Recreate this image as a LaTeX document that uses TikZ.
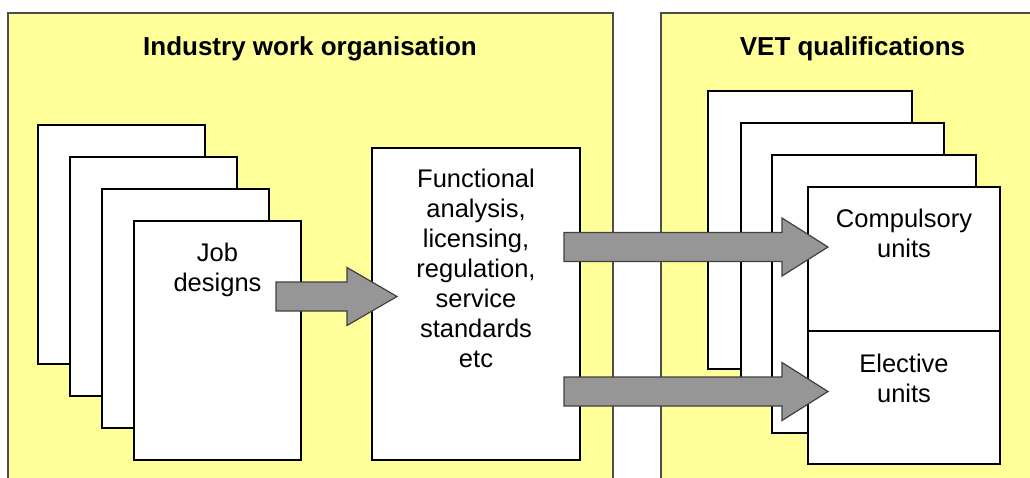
\documentclass[tikz,border=0pt]{standalone}
\usepackage{fontspec}
\setmainfont{Liberation Sans}
\usetikzlibrary{calc}
\definecolor{panelyellow}{HTML}{FFFF99}
\definecolor{panelline}{HTML}{4D4D4D}
\definecolor{arrowfill}{HTML}{969696}
\definecolor{arrowline}{HTML}{404040}
\newcommand\myblockarrow[4]{% start coord, tip coord, head length, name
  \draw[blockarr] let \p1=(#1), \p2=(#2) in
    (\x1,\y1+14.5pt) -- (\x2-#3,\y1+14.5pt) -- (\x2-#3,\y1+29pt) -- (\x2,\y2)
    -- (\x2-#3,\y1-29pt) -- (\x2-#3,\y1-14.5pt) -- (\x1,\y1-14.5pt) -- cycle;}
\begin{document}
\begin{tikzpicture}[x=1pt,y=-1pt,
  panel/.style={fill=panelyellow,draw=panelline,line width=2pt},
  pagebox/.style={draw=black,fill=white,line width=1.3pt,inner sep=0pt,rectangle},
  bodytext/.style={font=\fontsize{25.5}{30}\selectfont,align=center,inner sep=0pt},
  titletext/.style={font=\bfseries\fontsize{26}{30}\selectfont,inner sep=0pt,anchor=base},
  blockarr/.style={fill=arrowfill,draw=arrowline,line width=1.2pt,line join=miter}]
\useasboundingbox (0,0) rectangle (1030,477);
\clip (0,0) rectangle (1030,477);
% panels
\draw[panel] (8,13) rectangle (613,495);
\draw[panel] (661,13) rectangle (1045,495);
\node[titletext] (t1) at (310,55) {Industry work organisation};
\node[titletext] (t2) at (852.5,55) {VET qualifications};
% left stack of job pages
\node[pagebox,minimum width=167pt,minimum height=239pt] (p1) at (121.5,244.5) {};
\node[pagebox,minimum width=167pt,minimum height=239pt] (p2) at (153.5,276.5) {};
\node[pagebox,minimum width=167pt,minimum height=239pt] (p3) at (185.5,308.5) {};
\node[pagebox,minimum width=167pt,minimum height=239pt] (p4) at (217.5,340.5) {};
\node[bodytext] (job) at (217.5,270) {Job\\designs};
% middle box
\node[pagebox,minimum width=208pt,minimum height=312pt] (m) at (476,304) {};
\node[bodytext] (mtext) at (476,268) {Functional\\analysis,\\licensing,\\regulation,\\service\\standards\\etc};
% right stack
\node[pagebox,minimum width=204pt,minimum height=278pt] (q1) at (810,230) {};
\node[pagebox,minimum width=203pt,minimum height=278pt] (q2) at (842.5,262) {};
\node[pagebox,minimum width=204pt,minimum height=278pt] (q3) at (874,294) {};
\node[pagebox,minimum width=192pt,minimum height=277pt] (q4) at (904,325.5) {};
\coordinate (divl) at (808,331);
\coordinate (divr) at (1000,331);
\draw[line width=1.3pt] (divl) -- (divr);
\node[bodytext] (comp) at (904,233) {Compulsory\\units};
\node[bodytext] (elec) at (904,378) {Elective\\units};
% arrows
\coordinate (a1s) at (276,296.5);
\coordinate (a1t) at (397,296.5);
\coordinate (a2s) at (564,247);
\coordinate (a2t) at (828,247);
\coordinate (a3s) at (564,391.5);
\coordinate (a3t) at (828,391.5);
\myblockarrow{a1s}{a1t}{50pt}{arr1}
\myblockarrow{a2s}{a2t}{46pt}{arr2}
\myblockarrow{a3s}{a3t}{46pt}{arr3}
\end{tikzpicture}
\end{document}
